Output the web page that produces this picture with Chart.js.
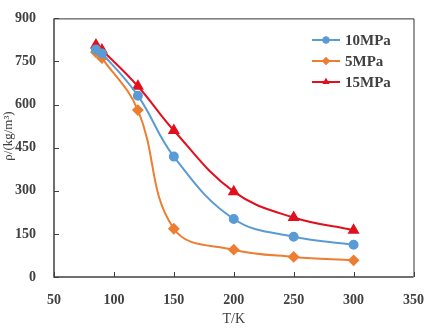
<!DOCTYPE html>
<html>
<head>
<meta charset="utf-8">
<script src="https://cdn.jsdelivr.net/npm/chart.js@4.4.1/dist/chart.umd.min.js"></script>
<style>
  html, body { margin: 0; padding: 0; background: #fff; }
  #wrap { width: 431px; height: 328px; position: relative; }
</style>
</head>
<body>
<div id="wrap"><canvas id="c" width="431" height="328"></canvas></div>
<script>
// Temperature (K) and density (kg/m³) at three pressures
const temps = [85, 90, 120, 150, 200, 250, 300];
const rho10MPa = [792, 778, 631, 419, 202, 140, 112];
const rho5MPa  = [782, 762, 581, 168, 95, 70, 58];
const rho15MPa = [807, 790, 664, 510, 297, 207, 163];
const seriesNames = ['10MPa', '5MPa', '15MPa'];
const xTicks = [50, 100, 150, 200, 250, 300, 350];
const yTicks = [0, 150, 300, 450, 600, 750, 900];
const xTitle = 'T/K';
const yTitle = 'ρ/(kg/m³)';

const toPoints = (vals) => temps.map((t, i) => ({ x: t, y: vals[i] }));

const axisColor = '#404040';
const serif = '"Liberation Serif", "Times New Roman", serif';
const tickFont = { family: serif, size: 14, weight: 'bold' };

// Frame around the plot area, inward tick marks and the rotated y title
const framePlugin = {
  id: 'frame',
  afterDraw(chart) {
    const { ctx, chartArea: a, scales } = chart;
    ctx.save();
    ctx.strokeStyle = '#333';
    ctx.lineWidth = 1;
    ctx.beginPath();
    ctx.moveTo(a.left, a.top + 0.5);
    ctx.lineTo(a.right + 0.5, a.top + 0.5);
    ctx.lineTo(a.right + 0.5, a.bottom);
    ctx.stroke();
    ctx.strokeStyle = axisColor;
    ctx.lineWidth = 1.5;
    ctx.beginPath();
    ctx.moveTo(a.left, a.top);
    ctx.lineTo(a.left, a.bottom);
    ctx.lineTo(a.right, a.bottom);
    ctx.stroke();
    ctx.lineWidth = 1;
    xTicks.forEach(v => {
      const px = Math.round(scales.x.getPixelForValue(v)) + 0.5;
      ctx.beginPath();
      ctx.moveTo(px, a.bottom);
      ctx.lineTo(px, a.bottom - 5);
      ctx.stroke();
    });
    yTicks.forEach(v => {
      const py = Math.round(scales.y.getPixelForValue(v)) + 0.5;
      ctx.beginPath();
      ctx.moveTo(a.left, py);
      ctx.lineTo(a.left + 5, py);
      ctx.stroke();
    });
    // y axis title
    ctx.translate(9, 136);
    ctx.rotate(-Math.PI / 2);
    ctx.fillStyle = axisColor;
    ctx.font = '13px ' + serif;
    ctx.textAlign = 'center';
    ctx.textBaseline = 'middle';
    ctx.fillText(yTitle, 0, 0);
    ctx.restore();
  }
};

new Chart(document.getElementById('c'), {
  type: 'line',
  data: {
    datasets: [
      { label: seriesNames[0], data: toPoints(rho10MPa), borderColor: '#5B9BD5', backgroundColor: '#5B9BD5',
        pointStyle: 'circle', pointRadius: 4, borderWidth: 2 },
      { label: seriesNames[1], data: toPoints(rho5MPa), borderColor: '#ED7D31', backgroundColor: '#ED7D31',
        pointStyle: 'rectRot', pointRadius: 4.5, borderWidth: 2 },
      { label: seriesNames[2], data: toPoints(rho15MPa), borderColor: '#E0101E', backgroundColor: '#E0101E',
        pointStyle: 'triangle', pointRadius: 5, borderWidth: 2 }
    ]
  },
  options: {
    responsive: false,
    animation: false,
    devicePixelRatio: 1,
    layout: { padding: { top: 9, right: 17, left: 0, bottom: 0 } },
    elements: { line: { tension: 0.4 }, point: { borderWidth: 0 } },
    plugins: {
      legend: { display: false },
      tooltip: { enabled: false }
    },
    scales: {
      x: {
        type: 'linear', min: 50, max: 350,
        afterBuildTicks(s) { s.ticks = xTicks.map(v => ({ value: v })); },
        afterFit(s) { s.height = 51; },
        grid: { display: false },
        border: { display: false },
        ticks: { font: tickFont, color: axisColor, padding: 7, maxRotation: 0 },
        title: { display: true, text: xTitle, color: axisColor,
          font: { family: serif, size: 14 }, padding: { top: 3, bottom: 0 } }
      },
      y: {
        min: 0, max: 900,
        afterBuildTicks(s) { s.ticks = yTicks.map(v => ({ value: v })); },
        afterFit(s) { s.width = 54; },
        grid: { display: false },
        border: { display: false },
        ticks: { font: tickFont, color: axisColor, padding: 10 }
      }
    }
  },
  plugins: [framePlugin, {
    id: 'seriesKey',
    afterDraw(chart) {
      // Key with a short line and marker for each series
      const { ctx } = chart;
      const rows = [40, 61, 82];
      ctx.save();
      chart.data.datasets.forEach((d, i) => {
        const y = rows[i];
        ctx.strokeStyle = d.borderColor;
        ctx.lineWidth = 2;
        ctx.beginPath();
        ctx.moveTo(312, y);
        ctx.lineTo(340, y);
        ctx.stroke();
        ctx.fillStyle = d.borderColor;
        Chart.helpers.drawPoint(ctx, { pointStyle: d.pointStyle, radius: d.pointStyle === 'circle' ? 3.5 : 4, rotation: 0, borderWidth: 0 }, 326, y);
        ctx.fill();
        ctx.fillStyle = axisColor;
        ctx.font = 'bold 15px ' + serif;
        ctx.textBaseline = 'middle';
        ctx.fillText(d.label, 345, y + 1);
      });
      ctx.restore();
    }
  }]
});
</script>
</body>
</html>
